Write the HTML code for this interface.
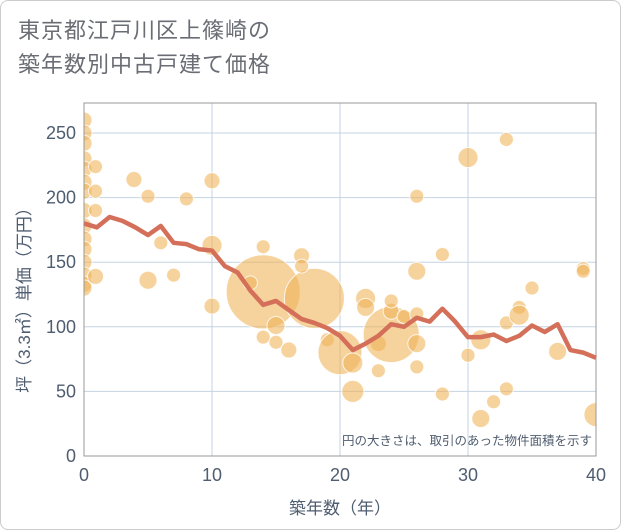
<!DOCTYPE html>
<html><head><meta charset="utf-8"><style>
body{margin:0;background:#fff;font-family:"Liberation Sans","Noto Sans CJK JP",sans-serif;}
#wrap{position:relative;width:619px;height:528px;border:1px solid #ccc;border-radius:8px;overflow:hidden;}
.title{position:absolute;left:17px;top:13px;font-size:22px;line-height:34px;color:#6a6e74;letter-spacing:1px;}
</style></head><body>
<div id="wrap">
<div class="title">東京都江戸川区上篠崎の<br>築年数別中古戸建て価格</div>
<svg id="chart" width="621" height="530" style="position:absolute;left:-1px;top:-1px"><defs><clipPath id="pc"><rect x="84" y="103" width="512" height="353"/></clipPath></defs></svg>
</div>
<script>
const xTicks=[0,10,20,30,40];
const yTicks=[0,50,100,150,200,250];
const lineYears=[0,1,2,3,4,5,6,7,8,9,10,11,12,13,14,15,16,17,18,19,20,21,22,23,24,25,26,27,28,29,30,31,32,33,34,35,36,37,38,39,40];
const lineValues=[180,177,185,182,177,171,178,165,164,160,159,147,142,128,117,120,113,106,103,99,93,82,87,93,102,100,107,104,114,104,92,92,94,89,93,101,96,102,82,80,76];
const bubbleX=[0,0,0,0,0,0,0,0,0,0,0,0,0,0,0,0.9,0.9,0.9,0.9,3.9,5,8,10,10,10,6,5,7,14,18,14,13,15,14,17,17,15,16,19,20,21,21,22,22,23,23,24,24,24,25,26,26,26,26,26,28,28,30,30,31,32,33,33,31,33,34,34,35,37,39,39,40];
const bubbleY=[260,250,242,230,222,212,205,190,178,168,160,150,140,133,130,224,205,190,139,214,201,199,213,163,116,165,136,140,127,122,162,134,101,92,155,147,88,82,90,80,72,50,122,115,66,87,94,112,120,108,110,143,201,87,69,48,156,231,78,29,42,245,52,90,103,115,109,130,81,145,143,32];
const bubbleArea=[8,8,8,8,8,8,8,8,8,8,8,8,8,8,8,7,7,7,8,8,7,7,8,10,8,7,9,7,37,30,7,7,9,7,8,7,7,8,7,22,10,11,10,9,7,8,28,8,7,7,7,9,7,9,7,7,7,10,7,9,7,7,7,10,7,7,10,7,9,7,7,12];
const svg=document.getElementById('chart');
const NS='http://www.w3.org/2000/svg';
const L=84,R=596,T=103,B=456;
const xs=v=>L+(v/40)*(R-L);
const ys=v=>B-v*1.292;
function mk(t,a,p){const e=document.createElementNS(NS,t);for(const k in a)e.setAttribute(k,a[k]);(p||svg).appendChild(e);return e;}
const grid=mk('g',{});


xTicks.forEach(t=>{const l=mk('line',{x1:xs(t),x2:xs(t),y1:T,y2:B,stroke:'#c5d3e0','stroke-width':1},grid);


const tx=mk('text',{x:xs(t),y:B+25,'text-anchor':'middle','font-size':18,fill:'#4f5d70'});tx.textContent=t;

});
yTicks.forEach(t=>{const l=mk('line',{x1:L,x2:R,y1:ys(t),y2:ys(t),stroke:'#c5d3e0','stroke-width':1},grid);


const tx=mk('text',{x:L-8,y:ys(t)+6,'text-anchor':'end','font-size':18,fill:'#4f5d70'});tx.textContent=t;

});
const bg=mk('g',{'clip-path':'url(#pc)'});


bubbleX.forEach((x,i)=>{const c=mk('circle',{cx:xs(x),cy:ys(bubbleY[i]),r:bubbleArea[i],fill:'rgba(240,180,90,0.6)',stroke:'rgba(255,255,255,0.8)','stroke-width':1},bg);

});
const frame=mk('rect',{x:L,y:T,width:R-L,height:B-T,fill:'none',stroke:'#999','stroke-width':1});


const pts=lineYears.map((y,i)=>xs(y)+','+ys(lineValues[i])).join(' ');
const pl=mk('polyline',{points:pts,fill:'none',stroke:'#d4705a','stroke-width':4.5,'stroke-linejoin':'round'});


const note=mk('text',{x:592,y:445,'text-anchor':'end','font-size':12.5,fill:'#4f5d70'});note.textContent='円の大きさは、取引のあった物件面積を示す';


const xt=mk('text',{x:340,y:514,'text-anchor':'middle','font-size':17,fill:'#4f5d70'});xt.textContent='築年数（年）';


const yt=mk('text',{x:0,y:0,'text-anchor':'middle','font-size':17,fill:'#4f5d70',transform:'translate(30,296) rotate(-90)'});yt.textContent='坪（3.3㎡）単価（万円）';


</script>
</body></html>
